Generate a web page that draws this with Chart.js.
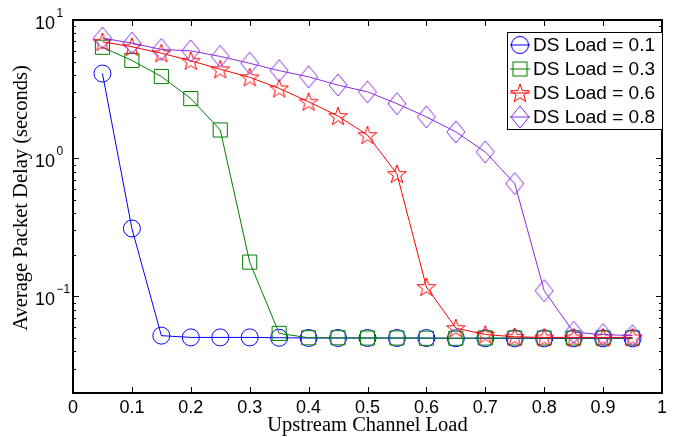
<!DOCTYPE html>
<html>
<head>
<meta charset="utf-8">
<script src="https://cdn.jsdelivr.net/npm/chart.js@4/dist/chart.umd.min.js"></script>
<style>
html,body{margin:0;padding:0;background:#fff;}
</style>
</head>
<body>
<canvas id="graph" width="673" height="437"></canvas>
<script>
// carga del canal de subida (eje x)
let cargas = [0.05,0.1,0.15,0.2,0.25,0.3,0.35,0.4,0.45,0.5,0.55,0.6,0.65,0.7,0.75,0.8,0.85,0.9,0.95];
// retardo medio (s) para cada carga de bajada
let ds01 = [4.1,0.31,0.052,0.0505,0.0505,0.0505,0.0502,0.05,0.05,0.05,0.05,0.05,0.0498,0.0498,0.0497,0.0497,0.0497,0.0497,0.0497];
let ds03 = [6.35,5.1,3.9,2.7,1.6,0.177,0.054,0.0502,0.0502,0.05,0.05,0.0498,0.0498,0.05,0.05,0.05,0.05,0.05,0.05];
let ds06 = [6.95,6.4,5.75,5.07,4.4,3.85,3.2,2.56,2.02,1.47,0.77,0.117,0.059,0.053,0.051,0.0505,0.0505,0.0505,0.0505];
let ds08 = [7.4,6.8,6.12,5.98,5.45,4.86,4.3,3.88,3.38,3.02,2.48,1.99,1.55,1.11,0.655,0.11,0.055,0.053,0.052];
let etiquetas = ["DS Load = 0.1","DS Load = 0.3","DS Load = 0.6","DS Load = 0.8"];
let colores = ['#0000ff','#008000','#ff0000','#8a2be2'];
let xTicks = [0,0.1,0.2,0.3,0.4,0.5,0.6,0.7,0.8,0.9,1];
let yDecadas = [-1,0,1];

function estrella(color){
    const c = document.createElement('canvas');
    c.width = 24; c.height = 24;
    const g = c.getContext('2d');
    g.strokeStyle = color; g.lineWidth = 1;
    g.beginPath();
    for (let i = 0; i < 10; i++) {
        const r = i % 2 ? 3.9 : 9.8;
        const a = -Math.PI/2 + i*Math.PI/5;
        g.lineTo(12 + r*Math.cos(a), 12.8 + r*Math.sin(a));
    }
    g.closePath(); g.stroke();
    return c;
}
function rombo(color){
    const c = document.createElement('canvas');
    c.width = 22; c.height = 26;
    const g = c.getContext('2d');
    g.strokeStyle = color; g.lineWidth = 1;
    g.beginPath();
    g.moveTo(11,2); g.lineTo(20,13); g.lineTo(11,24); g.lineTo(2,13);
    g.closePath(); g.stroke();
    return c;
}
const estilos = ['circle','rect',estrella(colores[2]),rombo(colores[3])];
const radios = [8.5,10,10,10];

function serie(i, valores){
    return {
        label: etiquetas[i],
        data: cargas.map((x, k) => ({x: x, y: valores[k]})),
        borderColor: colores[i],
        backgroundColor: 'rgba(0,0,0,0)',
        borderWidth: 1,
        pointStyle: estilos[i],
        pointRadius: radios[i],
        pointBorderWidth: 1,
        pointBorderColor: colores[i],
        pointBackgroundColor: 'rgba(0,0,0,0)',
        tension: 0,
        order: 3 - i
    };
}

const ejes = {
    id: 'ejes',
    afterDraw(chart){
        const ctx = chart.ctx;
        const a = chart.chartArea;
        const sx = chart.scales.x, sy = chart.scales.y;
        ctx.save();
        ctx.strokeStyle = '#000';
        // ticks internos
        ctx.lineWidth = 1;
        ctx.beginPath();
        xTicks.forEach(v => {
            const px = Math.round(sx.getPixelForValue(v)) + 0.5;
            ctx.moveTo(px, a.bottom); ctx.lineTo(px, a.bottom - 6);
            ctx.moveTo(px, a.top); ctx.lineTo(px, a.top + 6);
        });
        for (let e = -2; e <= 0; e++) {
            for (let m = 1; m <= 9; m++) {
                const v = m * Math.pow(10, e);
                if (v < 0.02 || v > 10) continue;
                const py = Math.round(sy.getPixelForValue(v)) + 0.5;
                const len = m === 1 ? 6 : 3;
                ctx.moveTo(a.left, py); ctx.lineTo(a.left + len, py);
                ctx.moveTo(a.right, py); ctx.lineTo(a.right - len, py);
            }
        }
        ctx.stroke();
        // marco
        ctx.lineWidth = 2;
        ctx.strokeRect(a.left, a.top, a.right - a.left, a.bottom - a.top);

        // etiquetas x
        ctx.fillStyle = '#000';
        ctx.font = '18px "Liberation Sans", Arial, sans-serif';
        ctx.textAlign = 'center';
        ctx.textBaseline = 'alphabetic';
        xTicks.forEach(v => {
            ctx.fillText(String(v), sx.getPixelForValue(v), 413);
        });
        // etiquetas y (10^n)
        yDecadas.forEach(e => {
            const py = sy.getPixelForValue(Math.pow(10, e));
            ctx.font = '18px "Liberation Sans", Arial, sans-serif';
            ctx.textAlign = 'right';
            ctx.fillText('10', 55, py + 8.5);
            ctx.font = '12px "Liberation Sans", Arial, sans-serif';
            ctx.textAlign = 'left';
            ctx.fillText(e < 0 ? '\u2212' + (-e) : String(e), 56.5, py - 3);
        });
        // titulos
        ctx.font = '20.5px "Liberation Serif", "Times New Roman", serif';
        ctx.textAlign = 'center';
        ctx.fillText('Upstream Channel Load', (a.left + a.right) / 2, 431);
        ctx.save();
        ctx.translate(27, 198);
        ctx.rotate(-Math.PI/2);
        ctx.fillText('Average Packet Delay (seconds)', 0, 0);
        ctx.restore();

        // leyenda
        const lx = 507, ly = 32, lw = 155, lh = 97;
        ctx.fillStyle = '#fff';
        ctx.fillRect(lx, ly, lw, lh);
        ctx.lineWidth = 1;
        ctx.strokeStyle = '#000';
        ctx.strokeRect(lx + 0.5, ly + 0.5, lw, lh);
        etiquetas.forEach((t, i) => {
            const y = 45 + i * 24;
            ctx.strokeStyle = colores[i];
            ctx.lineWidth = 1;
            ctx.beginPath();
            ctx.moveTo(510, y); ctx.lineTo(530, y);
            ctx.stroke();
            ctx.beginPath();
            if (i === 0) {
                ctx.arc(520, y, 8.5, 0, Math.PI * 2);
                ctx.stroke();
            } else if (i === 1) {
                ctx.strokeRect(513, y - 7, 14, 14);
            } else {
                const img = estilos[i];
                ctx.drawImage(img, 520 - img.width / 2, y - img.height / 2);
            }
            ctx.fillStyle = '#000';
            ctx.font = '19px "Liberation Sans", Arial, sans-serif';
            ctx.textAlign = 'left';
            ctx.textBaseline = 'middle';
            ctx.fillText(t, 533, y + 1);
            ctx.textBaseline = 'alphabetic';
        });
        ctx.restore();
    }
};

const graph = document.querySelector('#graph');
new Chart(graph, {
    type: 'line',
    data: {
        datasets: [serie(0, ds01), serie(1, ds03), serie(2, ds06), serie(3, ds08)]
    },
    options: {
        responsive: false,
        animation: false,
        devicePixelRatio: 1,
        layout: { padding: { left: 73, right: 1, top: 20, bottom: 44 } },
        plugins: { legend: { display: false }, tooltip: { enabled: false } },
        scales: {
            x: { type: 'linear', min: 0, max: 1, display: false },
            y: { type: 'logarithmic', min: 0.02, max: 10, display: false }
        },
        elements: { line: { clip: false } }
    },
    plugins: [ejes]
});
</script>
</body>
</html>
